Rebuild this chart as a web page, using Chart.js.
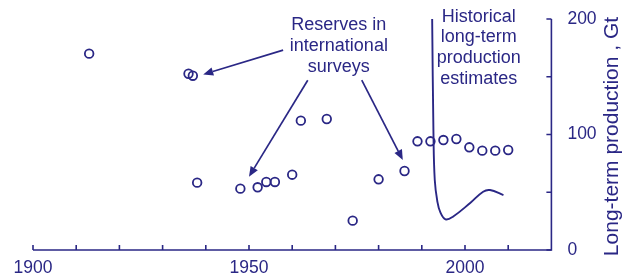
<!DOCTYPE html>
<html>
<head>
<meta charset="utf-8">
<script src="https://cdn.jsdelivr.net/npm/chart.js@4.4.1/dist/chart.umd.min.js"></script>
<style>
  html, body { margin: 0; padding: 0; background: #fff; }
  #wrap { width: 633px; height: 276px; }
</style>
</head>
<body>
<div id="wrap"><canvas id="chart"></canvas></div>
<script>
// Reserves reported in international surveys (year, Gt)
const surveyYears = [1913, 1936, 1937, 1938, 1948, 1952, 1954, 1956, 1960, 1962, 1968,
                     1974, 1980, 1986, 1989, 1992, 1995, 1998, 2001, 2004, 2007, 2010];
const surveyValues = [170, 152.6, 150.9, 58.3, 53.1, 54.3, 58.9, 58.9, 65.2, 112, 113.4,
                      25.4, 61.2, 68.4, 94.1, 94.1, 95.2, 96.1, 88.9, 86, 86, 86.6];

// Historical long-term production estimates curve
const estYears = [1992.4, 1992.7, 1993.0, 1993.6, 1994.3, 1995.5, 1997.2, 2001.2, 2004.2, 2005.8, 2008.9];
const estValues = [200, 101, 60.6, 42, 32.5, 26.5, 28.8, 40.7, 50.5, 51.9, 47.6];

const xLabels = [1900, 1950, 2000];
const yLabels = [0, 100, 200];

const INK = '#2a2785';
const FONT = "'Liberation Sans', Arial, Helvetica, sans-serif";

// annotation texts, anchored in data space
const notes = [
    { x: 1970.8, y: 194.8, lines: ['Reserves in', 'international', 'surveys'] },
    { x: 2003.2, y: 202, lines: ['Historical', 'long-term', 'production', 'estimates'] }
];
const arrows = [
    { from: [1957.9, 173], to: [1939.4, 152] },
    { from: [1963.6, 147], to: [1950, 63.5] },
    { from: [1976.1, 147], to: [1985.6, 78] }
];

const toPoints = (xs, ys) => xs.map((x, i) => ({ x: x, y: ys[i] }));

// axis lines, inward ticks, notes, arrows, y title
const decorations = {
    id: 'decorations',
    afterDraw(chart) {
        const ctx = chart.ctx;
        const xs = chart.scales.x;
        const ys = chart.scales.y;
        const x0 = xs.getPixelForValue(1900);
        const x1 = xs.getPixelForValue(2020);
        const y0 = ys.getPixelForValue(0);
        const y1 = ys.getPixelForValue(200);

        ctx.save();
        ctx.strokeStyle = INK;
        ctx.fillStyle = INK;
        ctx.lineWidth = 1.6;

        // axis lines
        ctx.beginPath();
        ctx.moveTo(x0, y0);
        ctx.lineTo(x1 + 0.8, y0);
        ctx.moveTo(x1, y0);
        ctx.lineTo(x1, y1);
        ctx.stroke();

        // x ticks every 10 years, pointing up
        ctx.beginPath();
        for (let v = 1900; v < 2020; v += 10) {
            const px = xs.getPixelForValue(v);
            ctx.moveTo(px, y0);
            ctx.lineTo(px, y0 - 5);
        }
        // y ticks every 50, pointing left
        for (let v = 0; v <= 200; v += 50) {
            const py = ys.getPixelForValue(v);
            ctx.moveTo(x1, py);
            ctx.lineTo(x1 - 5, py);
        }
        ctx.stroke();

        // arrows
        ctx.lineWidth = 1.7;
        arrows.forEach(a => {
            const sx = xs.getPixelForValue(a.from[0]);
            const sy = ys.getPixelForValue(a.from[1]);
            const tx = xs.getPixelForValue(a.to[0]);
            const ty = ys.getPixelForValue(a.to[1]);
            const ang = Math.atan2(ty - sy, tx - sx);
            const len = 10, half = 4.2;
            const bx = tx - len * Math.cos(ang);
            const by = ty - len * Math.sin(ang);
            ctx.beginPath();
            ctx.moveTo(sx, sy);
            ctx.lineTo(bx, by);
            ctx.stroke();
            ctx.beginPath();
            ctx.moveTo(tx, ty);
            ctx.lineTo(bx + half * Math.sin(ang), by - half * Math.cos(ang));
            ctx.lineTo(bx - half * Math.sin(ang), by + half * Math.cos(ang));
            ctx.closePath();
            ctx.fill();
        });

        // notes
        ctx.font = '18px ' + FONT;
        ctx.textAlign = 'center';
        ctx.textBaseline = 'middle';
        notes.forEach(n => {
            const px = xs.getPixelForValue(n.x);
            const py = ys.getPixelForValue(n.y);
            n.lines.forEach((t, i) => ctx.fillText(t, px, py + i * 20.8));
        });

        // y axis title, reading bottom to top
        ctx.font = '21px ' + FONT;
        ctx.translate(612, (y0 + y1) / 2 + 2);
        ctx.rotate(-Math.PI / 2);
        ctx.fillText('Long-term production , Gt', 0, 0);
        ctx.restore();
    }
};

new Chart(document.getElementById('chart'), {
    type: 'scatter',
    data: {
        datasets: [
            {
                label: 'Reserves in international surveys',
                data: toPoints(surveyYears, surveyValues),
                pointRadius: 4.3,
                pointBorderWidth: 1.8,
                pointBorderColor: INK,
                pointBackgroundColor: 'rgba(0,0,0,0)',
                showLine: false
            },
            {
                label: 'Historical long-term production estimates',
                data: toPoints(estYears, estValues),
                showLine: true,
                borderColor: INK,
                borderWidth: 1.9,
                pointRadius: 0,
                tension: 0.4,
                fill: false
            }
        ]
    },
    options: {
        responsive: true,
        maintainAspectRatio: false,
        animation: false,
        events: [],
        layout: { padding: { left: 33, top: 19, right: 0, bottom: 0 } },
        plugins: {
            legend: { display: false },
            tooltip: { enabled: false }
        },
        scales: {
            x: {
                type: 'linear',
                position: 'bottom',
                min: 1900,
                max: 2020,
                afterFit: (scale) => { scale.height = 26; },
                grid: { display: false },
                border: { display: false },
                ticks: {
                    stepSize: 10,
                    padding: 0,
                    maxRotation: 0,
                    autoSkip: false,
                    color: INK,
                    font: { family: FONT, size: 17.5 },
                    callback: (v) => xLabels.includes(v) ? String(v) : ''
                }
            },
            y: {
                type: 'linear',
                position: 'right',
                min: 0,
                max: 200,
                afterFit: (scale) => { scale.width = 81.6; },
                grid: { display: false },
                border: { display: false },
                ticks: {
                    stepSize: 50,
                    padding: 8,
                    color: INK,
                    font: { family: FONT, size: 17.5 },
                    callback: (v) => yLabels.includes(v) ? String(v) : ''
                }
            }
        }
    },
    plugins: [decorations]
});
</script>
</body>
</html>
